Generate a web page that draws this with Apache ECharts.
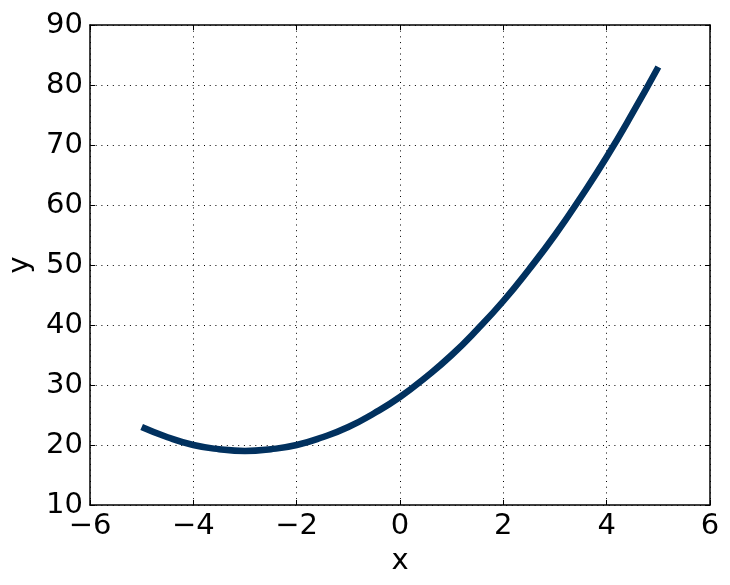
<!DOCTYPE html>
<html>
<head>
<meta charset="utf-8">
<script src="https://cdn.jsdelivr.net/npm/echarts@6/dist/echarts.min.js"></script>
<style>
  html, body { margin: 0; padding: 0; background: #fff; }
  #container { width: 730px; height: 585px; }
</style>
</head>
<body>
<div id="container"></div>
<script>
var dom = document.getElementById("container");
var myChart = echarts.init(dom);

// values
var xs = [-5, -4.5, -4, -3.5, -3, -2.5, -2, -1.5, -1, -0.5, 0, 0.5, 1, 1.5, 2, 2.5, 3, 3.5, 4, 4.5, 5];
var ys = [23, 21.3, 20, 19.3, 19, 19.3, 20, 21.3, 23, 25.3, 28, 31.3, 35, 39.3, 44, 49.3, 55, 61.3, 68, 75.3, 83];

var points = [];
for (var i = 0; i < xs.length; i++) {
    points.push([xs[i], ys[i]]);
}

var fontFam = 'DejaVu Sans';
var tickStyle = { show: true, inside: true, length: 5, lineStyle: { color: '#000', width: 1 } };
var gridLine = { show: true, lineStyle: { color: '#000', width: 1, type: [1, 4.7] } };
var axisLn = { show: true, onZero: false, lineStyle: { color: '#000', width: 1.5 } };

option = {
    animation: false,
    grid: { left: 90, right: 20, top: 25, bottom: 80, containLabel: false, outerBoundsMode: 'none' },
    xAxis: [
        {
            type: 'value', min: -6, max: 6, interval: 2,
            name: 'x', nameLocation: 'middle', nameGap: 42,
            nameTextStyle: { fontFamily: fontFam, fontSize: 29, color: '#000' },
            axisLine: axisLn, axisTick: tickStyle, splitLine: gridLine,
            axisLabel: { fontFamily: fontFam, fontSize: 29, color: '#000', margin: 7,
                formatter: function (v) { return String(v).replace('-', '\u2212'); } }
        },
        {
            type: 'value', min: -6, max: 6, interval: 2, position: 'top',
            axisLine: axisLn, axisTick: tickStyle, splitLine: { show: false },
            axisLabel: { show: false }
        }
    ],
    yAxis: [
        {
            type: 'value', min: 10, max: 90, interval: 10,
            name: 'y', nameLocation: 'middle', nameGap: 53,
            nameTextStyle: { fontFamily: fontFam, fontSize: 29, color: '#000' },
            axisLine: axisLn, axisTick: tickStyle, splitLine: gridLine,
            axisLabel: { fontFamily: fontFam, fontSize: 29, color: '#000', margin: 7 }
        },
        {
            type: 'value', min: 10, max: 90, interval: 10, position: 'right',
            axisLine: axisLn, axisTick: tickStyle, splitLine: { show: false },
            axisLabel: { show: false }
        }
    ],
    series: [
        {
            type: 'line',
            data: points,
            smooth: true,
            showSymbol: false,
            lineStyle: { color: '#01315f', width: 6.5, cap: 'butt' },
            itemStyle: { color: '#01315f' }
        }
    ]
};

myChart.setOption(option, true);
</script>
</body>
</html>
